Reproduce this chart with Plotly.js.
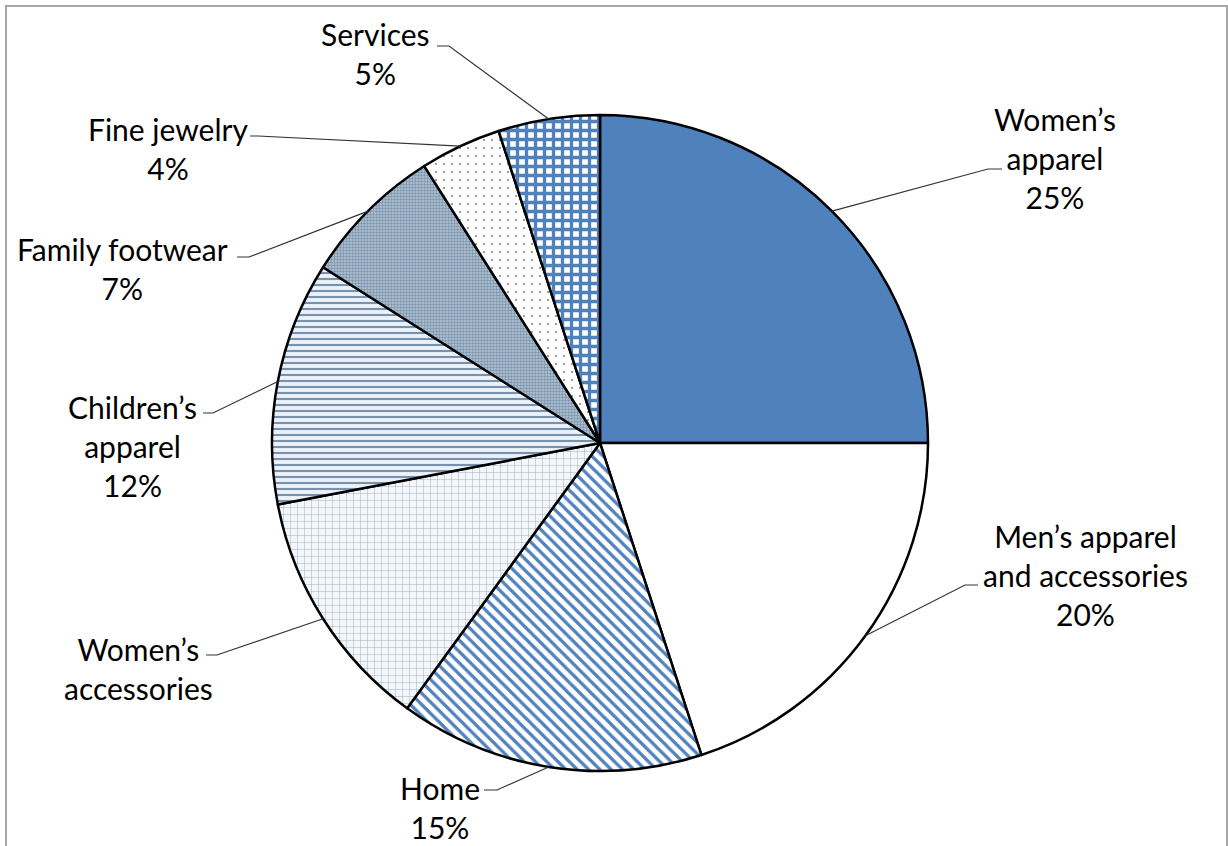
<!DOCTYPE html>
<html>
<head>
<meta charset="utf-8">
<script src="https://cdn.plot.ly/plotly-3.0.1.min.js"></script>
<style>
html,body{margin:0;padding:0;background:#fff;}
#chart{width:1228px;height:846px;}
</style>
</head>
<body>
<div id="chart"></div>
<script>
// ---- data ----
const categories = ["Women’s apparel", "Men’s apparel and accessories", "Home", "Women’s accessories",
  "Children’s apparel", "Family footwear", "Fine jewelry", "Services"];
const shares = [25, 20, 15, 12, 12, 7, 4, 5];
const labelLines = [
  ["Women’s", "apparel"],
  ["Men’s apparel", "and accessories"],
  ["Home"],
  ["Women’s", "accessories"],
  ["Children’s", "apparel"],
  ["Family footwear"],
  ["Fine jewelry"],
  ["Services"]
];
const showPercent = [true, true, true, false, true, true, true, true];

// ---- layout / style ----
const W = 1228, H = 846;
const CX = 600, CY = 443, R = 328;  // pie geometry in pixels
const domX = [(CX - R) / W, (CX + R) / W];
const domY = [(H - CY - R) / H, (H - CY + R) / H];

const sliceColors = ["#4f81bd", "#ffffff", "#ffffff", "#f3f7fb", "#eaf1f9", "#b9c9d8", "#ffffff", "#ffffff"];
const patShapes = ["", "", "\\", "+", "-", ".", ".", "+"];
const patFg = ["#4f81bd", "#ffffff", "#4f81bd", "#9aa3ad", "#7892ae", "#7b93ab", "#707070", "#4f81bd"];
const patBg = ["#4f81bd", "#ffffff", "#ffffff", "#f3f7fb", "#eaf1f9", "#b6c7d6", "#ffffff", "#ffffff"];
const patSize = [8, 8, 8, 7, 6, 3, 8, 9];
const patSolid = [0.3, 0.3, 0.4, 0.12, 0.35, 0.5, 0.04, 0.6];

// label placement (pixels): [elbow, end], and text centre
const leaderPts = [
  [[988, 169], [1002, 169]],
  [[965, 585], [978, 585]],
  [[497, 790], [484, 790]],
  [[217, 655], [206, 655]],
  [[213, 413], [203, 413]],
  [[249, 257], [237, 257]],
  [[258, 136], [250, 136]],
  [[449, 46], [437, 46]]
];
const textPos = [
  [1055, 158], [1085, 575], [440, 807], [138, 668],
  [132, 446], [122, 268], [168, 148], [375, 54]
];

const px = x => x / W;
const py = y => 1 - y / H;

const total = shares.reduce((a, b) => a + b, 0);
let cum = 0;
const shapes = [];
const annotations = [];
shares.forEach((v, i) => {
  const mid = (cum + v / 2) / total * 2 * Math.PI;
  cum += v;
  const ex = CX + R * Math.sin(mid), ey = CY - R * Math.cos(mid);
  const [e1, e2] = leaderPts[i];
  shapes.push({
    type: "path", xref: "paper", yref: "paper",
    path: `M ${px(ex)},${py(ey)} L ${px(e1[0])},${py(e1[1])} L ${px(e2[0])},${py(e2[1])}`,
    line: {color: "#333333", width: 1.2}
  });
  const lines = labelLines[i].slice();
  if (showPercent[i]) lines.push(v + "%");
  annotations.push({
    xref: "paper", yref: "paper", x: px(textPos[i][0]), y: py(textPos[i][1]),
    xanchor: "center", yanchor: "middle", showarrow: false, align: "center",
    text: lines.join("<br>"),
    font: {family: "Lato, 'Liberation Sans', sans-serif", size: 30, color: "#000000"}
  });
});

// outer frame
shapes.push({
  type: "rect", xref: "paper", yref: "paper",
  x0: px(6), x1: px(1227), y0: py(900), y1: py(6),
  line: {color: "#a6a6a6", width: 2}, fillcolor: "rgba(0,0,0,0)", layer: "below"
});

const trace = {
  type: "pie",
  labels: categories,
  values: shares,
  sort: false,
  direction: "clockwise",
  rotation: 0,
  textinfo: "none",
  hoverinfo: "label+percent",
  showlegend: false,
  domain: {x: domX, y: domY},
  marker: {
    colors: sliceColors,
    line: {color: "#000000", width: 2.5},
    pattern: {shape: patShapes, fgcolor: patFg, bgcolor: patBg, size: patSize, solidity: patSolid}
  }
};

Plotly.newPlot("chart", [trace], {
  width: W, height: H,
  margin: {l: 0, r: 0, t: 0, b: 0},
  paper_bgcolor: "#ffffff",
  plot_bgcolor: "#ffffff",
  showlegend: false,
  shapes: shapes,
  annotations: annotations
}, {displayModeBar: false, staticPlot: true});
</script>
</body>
</html>
